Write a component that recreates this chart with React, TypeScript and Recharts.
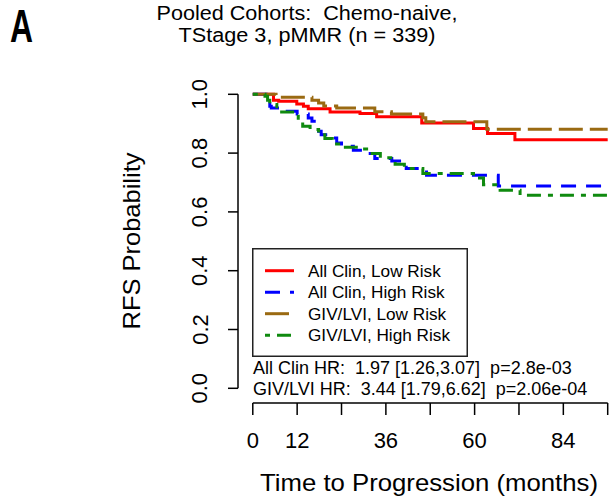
import { LineChart, Line, XAxis, YAxis, Legend, ReferenceLine } from "recharts";

const FONT = "'Liberation Sans', Arial, Helvetica, sans-serif";

// axis ticks
const monthTicks = [0, 12, 24, 36, 48, 60, 72, 84, 96];
const monthLabels = [0, 12, 36, 60, 84];
const probTicks = [0, 0.2, 0.4, 0.6, 0.8, 1.0];

// Kaplan-Meier curves (months, RFS probability)
const clinLowT = [0, 5.6, 7, 11.9, 13.7, 15, 20.9, 29, 33.5, 45.7, 59.7, 63.5, 70.9, 96];
const clinLowS = [1, 0.98, 0.976, 0.967, 0.959, 0.951, 0.94, 0.935, 0.924, 0.902, 0.884, 0.867, 0.845, 0.845];

const clinHighT = [0, 4.2, 4.6, 5, 8.5, 12, 15, 16, 17.8, 18.5, 21.4, 22.7, 24, 27.2, 30, 33, 37.6, 41.5, 47, 66.4, 96];
const clinHighS = [1, 0.976, 0.959, 0.953, 0.942, 0.933, 0.919, 0.908, 0.874, 0.862, 0.851, 0.834, 0.823, 0.81, 0.799, 0.782, 0.773, 0.748, 0.725, 0.688, 0.688];

const givLowT = [0, 6.3, 16, 17.8, 19.2, 22.7, 33, 37.5, 46, 46.8, 63.3, 96];
const givLowS = [1, 0.99, 0.98, 0.97, 0.96, 0.953, 0.941, 0.933, 0.92, 0.907, 0.881, 0.881];

const givHighT = [0, 3.3, 4, 4.6, 6.5, 12.3, 13.5, 15.5, 17.8, 19.5, 21.5, 24.5, 28, 31.7, 34.5, 38.5, 41, 46, 59.7, 62.4, 66.9, 72.3, 96];
const givHighS = [1, 0.993, 0.98, 0.965, 0.94, 0.91, 0.891, 0.88, 0.862, 0.85, 0.831, 0.82, 0.814, 0.799, 0.784, 0.762, 0.748, 0.731, 0.715, 0.692, 0.674, 0.657, 0.657];

const titleLines = ["Pooled Cohorts:\u00a0\u00a0Chemo-naive,", "TStage 3, pMMR (n = 339)"];
const hrLines = [
  "All Clin HR:\u00a0\u00a01.97 [1.26,3.07]\u00a0\u00a0p=2.8e-03",
  "GIV/LVI HR:\u00a0\u00a03.44 [1.79,6.62]\u00a0\u00a0p=2.06e-04",
];

const toPoints = (t: number[], s: number[]) => t.map((v, i) => ({ t: v, s: s[i] }));

const series = [
  { name: "All Clin, Low Risk", color: "#ff0000", dash: undefined, data: toPoints(clinLowT, clinLowS) },
  { name: "All Clin, High Risk", color: "#0000ff", dash: "15 10", data: toPoints(clinHighT, clinHighS) },
  { name: "GIV/LVI, Low Risk", color: "#9a6a12", dash: "24 7", data: toPoints(givLowT, givLowS) },
  { name: "GIV/LVI, High Risk", color: "#0f8a0f", dash: "5 7 14 7", data: toPoints(givHighT, givHighS) },
];

const XTick = (props: any) => {
  const { x, y, payload } = props;
  if (!monthLabels.includes(payload.value)) return null;
  return (
    <text x={x} y={y + 19} textAnchor="middle" dominantBaseline="central" fontSize={22} fontFamily={FONT} fill="#000">
      {payload.value}
    </text>
  );
};

const YTick = (props: any) => {
  const { x, y, payload } = props;
  return (
    <text
      x={x}
      y={y}
      transform={`rotate(-90, ${x}, ${y})`}
      textAnchor="middle"
      dominantBaseline="central"
      fontSize={22}
      fontFamily={FONT}
      fill="#000"
    >
      {payload.value.toFixed(1)}
    </text>
  );
};

const KmLegend = () => (
  <svg width={216} height={109} style={{ display: "block" }}>
    <rect x={0.75} y={0.75} width={214.5} height={107.5} fill="#fff" stroke="#222" strokeWidth={1.5} />
    {series.map((s, i) => {
      const y = 22.7 + i * 21.5;
      return (
        <g key={s.name}>
          <line x1={13} x2={42} y1={y} y2={y} stroke={s.color} strokeWidth={3} strokeDasharray={s.dash} />
          <text x={56} y={y} dominantBaseline="central" fontSize={17.2} fontFamily={FONT} fill="#000">
            {s.name}
          </text>
        </g>
      );
    })}
  </svg>
);

export default function App() {
  return (
    <div style={{ position: "absolute", left: 0, top: 0, width: 609, height: 498, background: "#fff" }}>
      <LineChart width={609} height={498} margin={{ top: 94.3, right: 1.3, bottom: 0, left: 0 }}>
        <XAxis
          type="number"
          dataKey="t"
          domain={[-4, 96]}
          ticks={monthTicks}
          tick={<XTick />}
          tickSize={12}
          tickMargin={6}
          tickLine={{ stroke: "#000", strokeWidth: 1.5 }}
          axisLine={false}
          height={95}
        />
        <YAxis
          type="number"
          dataKey="s"
          domain={[-0.05, 1]}
          ticks={probTicks}
          tick={<YTick />}
          tickSize={10}
          tickMargin={28}
          tickLine={{ stroke: "#000", strokeWidth: 1.5 }}
          axisLine={false}
          width={238}
        />
        <ReferenceLine
          segment={[{ x: 0, y: -0.05 }, { x: 96, y: -0.05 }]}
          stroke="#000"
          strokeWidth={1.5}
          ifOverflow="visible"
        />
        <ReferenceLine
          segment={[{ x: -4, y: 0 }, { x: -4, y: 1 }]}
          stroke="#000"
          strokeWidth={1.5}
          ifOverflow="visible"
        />
        {series.map((s) => (
          <Line
            key={s.name}
            data={s.data}
            dataKey="s"
            type="stepAfter"
            stroke={s.color}
            strokeWidth={3}
            strokeDasharray={s.dash}
            dot={false}
            activeDot={false}
            isAnimationActive={false}
            name={s.name}
          />
        ))}
        <Legend
          layout="horizontal"
          verticalAlign="middle"
          align="center"
          content={<KmLegend />}
          wrapperStyle={{ left: 252, top: 248, width: 216, height: 109 }}
        />
      </LineChart>
      <svg
        width={609}
        height={498}
        style={{ position: "absolute", left: 0, top: 0, pointerEvents: "none" }}
        fontFamily={FONT}
      >
        <text x={10} y={42} fontSize={46} fontWeight="bold" textLength={23} lengthAdjust="spacingAndGlyphs">
          A
        </text>
        <text x={307} y={13} textAnchor="middle" dominantBaseline="central" fontSize={19.5} textLength={301} lengthAdjust="spacingAndGlyphs">
          {titleLines[0]}
        </text>
        <text x={307} y={35} textAnchor="middle" dominantBaseline="central" fontSize={19.5} textLength={257} lengthAdjust="spacingAndGlyphs">
          {titleLines[1]}
        </text>
        <text
          x={131}
          y={241}
          transform="rotate(-90, 131, 241)"
          textAnchor="middle"
          dominantBaseline="central"
          fontSize={24}
          textLength={177}
          lengthAdjust="spacingAndGlyphs"
        >
          RFS Probability
        </text>
        <text x={429} y={482} textAnchor="middle" dominantBaseline="central" fontSize={24} textLength={338} lengthAdjust="spacingAndGlyphs">
          Time to Progression (months)
        </text>
        {hrLines.map((h, i) => (
          <text key={h} x={253} y={368.3 + i * 21} dominantBaseline="central" fontSize={18}>
            {h}
          </text>
        ))}
      </svg>
    </div>
  );
}
